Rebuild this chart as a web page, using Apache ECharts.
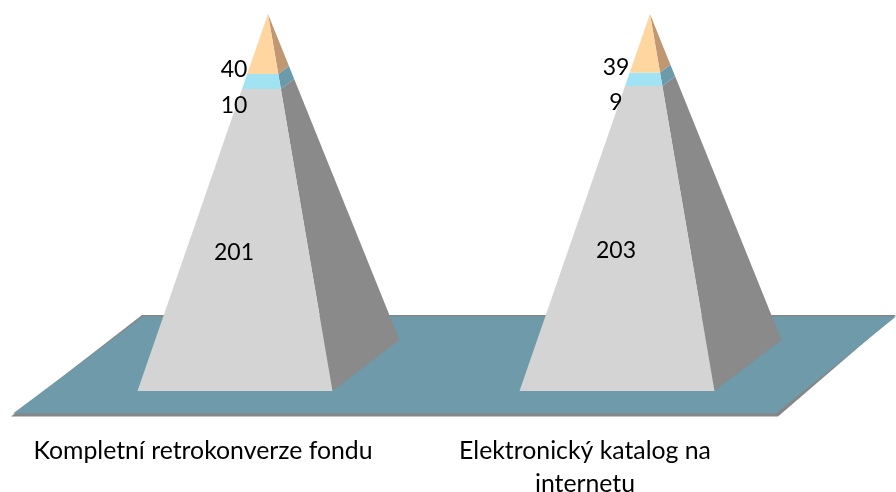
<!DOCTYPE html>
<html><head><meta charset="utf-8">
<style>html,body{margin:0;padding:0;background:#fff}#c{width:896px;height:492px}</style>
<script src="https://cdn.jsdelivr.net/npm/echarts@6/dist/echarts.min.js"></script>
</head><body><div id="c"></div>
<script>
const categories = ['Kompletní retrokonverze fondu', 'Elektronický katalog na\ninternetu'];
const baseValues = [201, 203];
const midValues = [10, 9];
const topValues = [40, 39];
const axisMax = 251;

const FONT = 'Lato, "Open Sans", sans-serif';
const look = {
  base: { front: '#D4D4D4', side: '#8A8A8A' },
  mid:  { front: '#A2E3F3', side: '#6B9AAA' },
  top:  { front: '#FFD5A0', side: '#BF9873' }
};
const chart = echarts.init(document.getElementById('c'), null, { renderer: 'canvas' });

function segmentItem(values, starts, colors, labelY) {
  return function (params, api) {
    const i = api.value(0), v = api.value(1), s = starts[i];
    const bottom = api.coord([i, 0]);
    const apexY = api.coord([i, baseValues[i] + midValues[i] + topValues[i]])[1];
    const y0 = api.coord([i, s])[1], y1 = api.coord([i, s + v])[1];
    const cx = bottom[0] + 32, halfW = 97.5;
    const apex = [cx + 33, apexY];
    const fl = [cx - halfW, bottom[1]], fr = [cx + halfW, bottom[1]], br = [fr[0] + 67, fr[1] - 51];
    const at = (p, y) => {
      const t = (bottom[1] - y) / (bottom[1] - apexY);
      return [p[0] + (apex[0] - p[0]) * t, p[1] + (apex[1] - p[1]) * t];
    };
    return {
      type: 'group',
      children: [
        { type: 'polygon', shape: { points: [at(fr, y0), at(br, y0), at(br, y1), at(fr, y1)] }, style: { fill: colors.side } },
        { type: 'polygon', shape: { points: [at(fl, y0), at(fr, y0), at(fr, y1), at(fl, y1)] }, style: { fill: colors.front } },
        { type: 'text', z2: 10, style: { text: String(v), x: cx - 1, y: labelY(y0, y1), align: 'center', verticalAlign: 'middle', font: '23px ' + FONT, fill: '#000' } }
      ]
    };
  };
}
const zeros = [0, 0];
const midStart = baseValues.slice();
const topStart = baseValues.map((b, i) => b + midValues[i]);

chart.setOption({
  animation: false,
  grid: { left: 12, width: 764, top: 14, height: 377, outerBoundsMode: 'none' },
  xAxis: {
    type: 'category', data: categories,
    axisLine: { show: false }, axisTick: { show: false },
    axisLabel: { interval: 0, margin: 44, fontFamily: FONT, fontSize: 24.8, lineHeight: 33, color: '#000' }
  },
  yAxis: { type: 'value', min: 0, max: axisMax, show: false },
  series: [
    { type: 'custom', silent: true, data: [[0]], z: 1,
      renderItem: function (params, api) {
        const g = params.coordSys, by = g.y + g.height;
        const L = g.x, R = g.x + g.width + 2;
        return { type: 'group', children: [
          { type: 'polygon', shape: { points: [[L - 1, by + 25.5], [R, by + 25.5], [R + 118, by - 76], [L + 130, by - 76]] }, style: { fill: '#868686' } },
          { type: 'polygon', shape: { points: [[L + 1, by + 22.5], [R - 2, by + 22.5], [R + 118, by - 74.5], [L + 131, by - 74.5]] }, style: { fill: '#6F9AA9' } }
        ] };
      } },
    { type: 'custom', silent: true, z: 2, data: baseValues.map((v, i) => [i, v]), encode: { x: 0, y: 1 },
      renderItem: segmentItem(baseValues, zeros, look.base, (a, b) => (a + b) / 2 + 12.5) },
    { type: 'custom', silent: true, z: 3, data: midValues.map((v, i) => [i, v]), encode: { x: 0, y: 1 },
      renderItem: segmentItem(midValues, midStart, look.mid, (a, b) => a + 16) },
    { type: 'custom', silent: true, z: 4, data: topValues.map((v, i) => [i, v]), encode: { x: 0, y: 1 },
      renderItem: segmentItem(topValues, topStart, look.top, (a, b) => a - 4.5) }
  ]
});
</script></body></html>
